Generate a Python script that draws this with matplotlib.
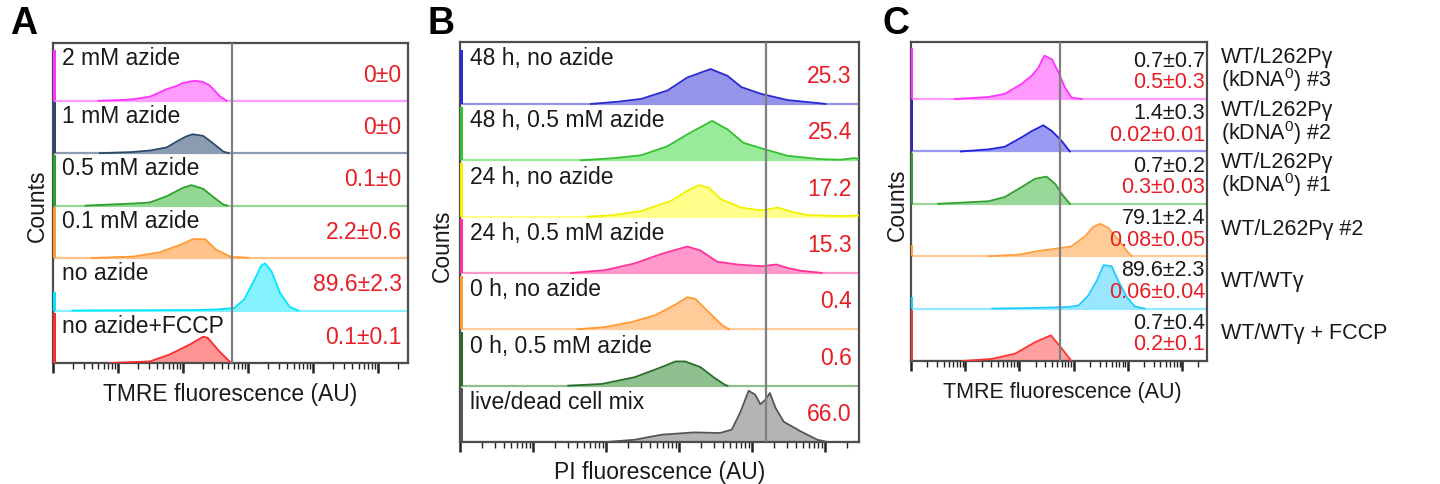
import numpy as np
import matplotlib.pyplot as plt
from matplotlib.transforms import blended_transform_factory

plt.rcParams['font.family'] = ['Liberation Sans', 'DejaVu Sans']
plt.rcParams['mathtext.fontset'] = 'custom'
plt.rcParams['mathtext.rm'] = 'Liberation Sans'
plt.rcParams['mathtext.it'] = 'Liberation Sans:italic'

RED = '#e61e25'
INK = '#1a1a1a'

# ---- panel A: TMRE, azide titration (rows listed top to bottom) ----
a_labels = ["2 mM azide", "1 mM azide", "0.5 mM azide", "0.1 mM azide",
            "no azide", "no azide+FCCP"]
a_values = ["0\u00b10", "0\u00b10", "0.1\u00b10", "2.2\u00b10.6",
            "89.6\u00b12.3", "0.1\u00b10.1"]
# histogram outlines: x in log10 decades, y as fraction of row height
a_x = [
    [0.7, 1.0, 1.25, 1.5, 1.75, 1.9, 2.0, 2.18, 2.3, 2.4, 2.48, 2.57, 2.67],
    [0.72, 1.2, 1.49, 1.75, 1.9, 2.05, 2.15, 2.31, 2.46, 2.62, 2.7],
    [0.5, 1.24, 1.49, 1.75, 2.0, 2.13, 2.31, 2.48, 2.62, 2.68],
    [0.6, 1.24, 1.64, 1.95, 2.15, 2.34, 2.51, 2.74, 2.97, 3.0],
    [0.3, 2.2, 2.5, 2.79, 2.94, 3.1, 3.2, 3.26, 3.36, 3.49, 3.64, 3.77],
    [0.88, 1.49, 1.79, 2.1, 2.31, 2.38, 2.56, 2.74],
]
a_y = [
    [0, 0.01, 0.03, 0.08, 0.22, 0.28, 0.34, 0.38, 0.36, 0.30, 0.20, 0.08, 0],
    [0, 0.02, 0.05, 0.11, 0.22, 0.32, 0.36, 0.33, 0.19, 0.03, 0],
    [0, 0.04, 0.06, 0.18, 0.34, 0.39, 0.32, 0.15, 0.02, 0],
    [0, 0.03, 0.11, 0.25, 0.36, 0.36, 0.16, 0.02, 0.01, 0],
    [0, 0.01, 0.02, 0.05, 0.21, 0.59, 0.85, 0.90, 0.75, 0.34, 0.07, 0],
    [0, 0.03, 0.16, 0.35, 0.50, 0.48, 0.22, 0],
]
a_spike = [0.97, 0.97, 0.97, 0.97, 0.35, 0.95]
a_gate = 2.75
a_line = ['#ff33ff', '#2b4a6b', '#2ca02c', '#ff9933', '#00e5ff', '#ff2a2a']
a_fill = ['#ff9cff', '#8c9cb0', '#92d892', '#ffc28a', '#85f2ff', '#ff9494']

# ---- panel B: PI ----
b_labels = ["48 h, no azide", "48 h, 0.5 mM azide", "24 h, no azide",
            "24 h, 0.5 mM azide", "0 h, no azide", "0 h, 0.5 mM azide",
            "live/dead cell mix"]
b_values = ["25.3", "25.4", "17.2", "15.3", "0.4", "0.6", "66.0"]
b_x = [
    [1.79, 2.16, 2.48, 2.84, 3.11, 3.43, 3.66, 3.85, 4.12, 4.48, 4.94, 5.0],
    [1.66, 2.12, 2.48, 2.84, 3.11, 3.45, 3.66, 3.88, 4.16, 4.48, 4.94, 5.2, 5.4, 5.46],
    [1.75, 2.12, 2.48, 2.89, 3.11, 3.27, 3.41, 3.57, 3.85, 4.12, 4.35, 4.53, 4.75, 5.2, 5.46],
    [1.52, 1.98, 2.39, 2.76, 3.11, 3.29, 3.52, 3.8, 4.12, 4.33, 4.48, 4.66, 4.89, 4.95],
    [1.61, 1.98, 2.35, 2.67, 2.95, 3.11, 3.22, 3.4, 3.59, 3.68],
    [1.48, 1.94, 2.39, 2.76, 2.95, 3.08, 3.29, 3.47, 3.63, 3.66],
    [2.0, 2.39, 2.76, 3.2, 3.56, 3.72, 3.84, 3.95, 4.04, 4.11, 4.18, 4.24, 4.32,
     4.43, 4.66, 4.89, 5.03],
]
b_y = [
    [0, 0.04, 0.09, 0.24, 0.47, 0.62, 0.50, 0.30, 0.18, 0.07, 0.01, 0],
    [0, 0.04, 0.09, 0.25, 0.46, 0.70, 0.55, 0.31, 0.20, 0.08, 0.02, 0.01, 0.04, 0.02],
    [0, 0.03, 0.10, 0.28, 0.46, 0.56, 0.51, 0.31, 0.16, 0.11, 0.16, 0.09, 0.03, 0.01, 0.02],
    [0, 0.05, 0.17, 0.34, 0.47, 0.40, 0.20, 0.15, 0.12, 0.15, 0.09, 0.04, 0.01, 0],
    [0, 0.04, 0.13, 0.25, 0.44, 0.57, 0.54, 0.31, 0.07, 0],
    [0, 0.03, 0.15, 0.33, 0.43, 0.43, 0.33, 0.15, 0.01, 0],
    [0, 0.04, 0.13, 0.17, 0.16, 0.22, 0.54, 0.91, 0.84, 0.67, 0.75, 0.87, 0.60,
     0.36, 0.19, 0.04, 0],
]
b_spike = [0.95, 0.95, 0.95, 0.95, 0.95, 0.95, 0.95]
b_gate = 4.19
b_line = ['#2a2ad0', '#33c033', '#f2f200', '#ff3399', '#ff9933', '#2a6e2a', '#555555']
b_fill = ['#9494ea', '#99ea99', '#ffff8c', '#ff99cc', '#ffcc99', '#8fbf8f', '#b4b4b4']

# ---- panel C: TMRE, cell lines ----
c_labels = [["WT/L262P\u03b3", "(kDNA$^{\\mathregular{0}}$) #3"],
            ["WT/L262P\u03b3", "(kDNA$^{\\mathregular{0}}$) #2"],
            ["WT/L262P\u03b3", "(kDNA$^{\\mathregular{0}}$) #1"],
            ["WT/L262P\u03b3 #2"], ["WT/WT\u03b3"], ["WT/WT\u03b3 + FCCP"]]
c_values = ["0.7\u00b10.7", "1.4\u00b10.3", "0.7\u00b10.2", "79.1\u00b12.4",
            "89.6\u00b12.3", "0.7\u00b10.4"]
c_values2 = ["0.5\u00b10.3", "0.02\u00b10.01", "0.3\u00b10.03", "0.08\u00b10.05",
             "0.06\u00b10.04", "0.2\u00b10.1"]
c_x = [
    [0.81, 1.43, 1.73, 2.04, 2.23, 2.35, 2.46, 2.6, 2.72, 2.84, 2.96, 3.09, 3.15],
    [0.92, 1.43, 1.73, 2.04, 2.23, 2.44, 2.6, 2.78, 2.93],
    [0.5, 1.43, 1.73, 2.04, 2.29, 2.5, 2.66, 2.78, 2.93],
    [1.43, 1.98, 2.35, 2.78, 2.96, 3.21, 3.36, 3.49, 3.64, 3.82, 3.98, 4.07],
    [1.5, 2.1, 2.9, 3.09, 3.27, 3.43, 3.55, 3.7, 3.82, 3.98, 4.13, 4.31],
    [0.95, 1.49, 1.92, 2.29, 2.58, 2.78, 2.96],
]
c_y = [
    [0, 0.04, 0.10, 0.29, 0.45, 0.60, 0.83, 0.76, 0.51, 0.22, 0.03, 0.01, 0],
    [0, 0.04, 0.09, 0.27, 0.39, 0.50, 0.39, 0.20, 0],
    [0, 0.05, 0.13, 0.32, 0.48, 0.52, 0.38, 0.19, 0],
    [0, 0.03, 0.10, 0.16, 0.19, 0.38, 0.56, 0.62, 0.54, 0.32, 0.10, 0],
    [0, 0.01, 0.03, 0.06, 0.25, 0.54, 0.83, 0.81, 0.54, 0.22, 0.04, 0],
    [0, 0.04, 0.14, 0.36, 0.49, 0.24, 0],
]
c_spike = [0.98, 0.98, 0.98, 0.22, 0.22, 0.97]
c_gate = 2.75
c_line = ['#ff33ff', '#2222dd', '#30a030', '#ffa040', '#22ccff', '#ff3333']
c_fill = ['#ff99ff', '#9a9af5', '#98d898', '#ffcc99', '#99e6ff', '#ffa0a0']

XMAX = 10 ** 5.46


def draw_panel(ax, xs, ys, spikes, lines, fills, gate, top, ylab_x):
    n = len(xs)
    for i in range(n):
        base = n - 1 - i
        x = np.power(10.0, xs[i])
        y = base + np.array(ys[i])
        ax.axhline(base, color=fills[i], lw=1.6, zorder=1)
        ax.fill_between(x, base, y, color=fills[i], lw=0, zorder=2)
        ax.plot(x, y, color=lines[i], lw=1.3, zorder=3)
        ax.fill_between([1.0, 10 ** 0.045], base, base + spikes[i],
                        color=lines[i], lw=0, zorder=3)
    ax.axvline(10 ** gate, color='#7f7f7f', lw=1.6, zorder=4)
    ax.set_xscale('log')
    ax.set_xlim(1, XMAX)
    ax.set_ylim(0, top)
    ax.set_yticks([])
    ax.tick_params(axis='x', which='major', direction='out', length=7,
                   width=1.8, color='#222222', labelbottom=False)
    ax.tick_params(axis='x', which='minor', direction='out', length=4,
                   width=1.0, color='#222222')
    for s in ax.spines.values():
        s.set_color('#4d4d4d')
        s.set_linewidth(1.6)
    ax.set_ylabel("Counts", fontsize=16.5, color=INK)
    ax.yaxis.set_label_coords(ylab_x, 0.49)
    ax.yaxis.label.set_va('center')


fig = plt.figure(figsize=(14.4, 4.84), dpi=100)
W, H = 1440.0, 484.0

axA = fig.add_axes([53 / W, 1 - 363 / H, 355 / W, 320 / H])
axB = fig.add_axes([460 / W, 1 - 442 / H, 399 / W, 400 / H])
axC = fig.add_axes([911 / W, 1 - 361 / H, 296 / W, 319 / H])

draw_panel(axA, a_x, a_y, a_spike, a_line, a_fill, a_gate, 6.1, -0.045)
draw_panel(axB, b_x, b_y, b_spike, b_line, b_fill, b_gate, 7.1, -0.043)
draw_panel(axC, c_x, c_y, c_spike, c_line, c_fill, c_gate, 6.09, -0.047)

# row labels and percentages
for ax, labels, values, top, fs in [(axA, a_labels, a_values, 6.1, 16.5),
                                    (axB, b_labels, b_values, 7.1, 16.5)]:
    tr = blended_transform_factory(ax.transAxes, ax.transData)
    n = len(labels)
    for i in range(n):
        base = n - 1 - i
        row_top = top if i == 0 else base + 1
        ax.text(0.025, row_top - 0.3, labels[i], transform=tr, fontsize=fs,
                color=INK, ha='left', va='center')
        ax.text(0.982, base + 0.49, values[i], transform=tr, fontsize=fs,
                color=RED, ha='right', va='center')

trC = blended_transform_factory(axC.transAxes, axC.transData)
n = len(c_labels)
for i in range(n):
    base = n - 1 - i
    axC.text(0.993, base + 0.72, c_values[i], transform=trC, fontsize=15.5,
             color=INK, ha='right', va='center')
    axC.text(0.993, base + 0.31, c_values2[i], transform=trC, fontsize=15.5,
             color=RED, ha='right', va='center')
    if len(c_labels[i]) == 2:
        axC.text(1.047, base + 0.79, c_labels[i][0], transform=trC,
                 fontsize=15.5, color=INK, ha='left', va='center')
        axC.text(1.047, base + 0.36, c_labels[i][1], transform=trC,
                 fontsize=15.5, color=INK, ha='left', va='center')
    else:
        axC.text(1.047, base + 0.52, c_labels[i][0], transform=trC,
                 fontsize=15.5, color=INK, ha='left', va='center')

# x labels
for ax, lab, ypos, xpos, fs in [(axA, "TMRE fluorescence (AU)", -0.1, 0.5, 16.5),
                                (axB, "PI fluorescence (AU)", -0.075, 0.5, 16.5),
                                (axC, "TMRE fluorescence (AU)", -0.1, 0.51, 15.5)]:
    ax.set_xlabel(lab, fontsize=fs, color=INK)
    ax.xaxis.set_label_coords(xpos, ypos)
    ax.xaxis.label.set_va('center')

# panel letters
for x0, letter in [(10, "A"), (427, "B"), (882, "C")]:
    fig.text(x0 / W, 1 - 24 / H, letter, fontsize=27, fontweight='bold',
             color='black', ha='left', va='center')

fig.savefig("out.png", dpi=100)
